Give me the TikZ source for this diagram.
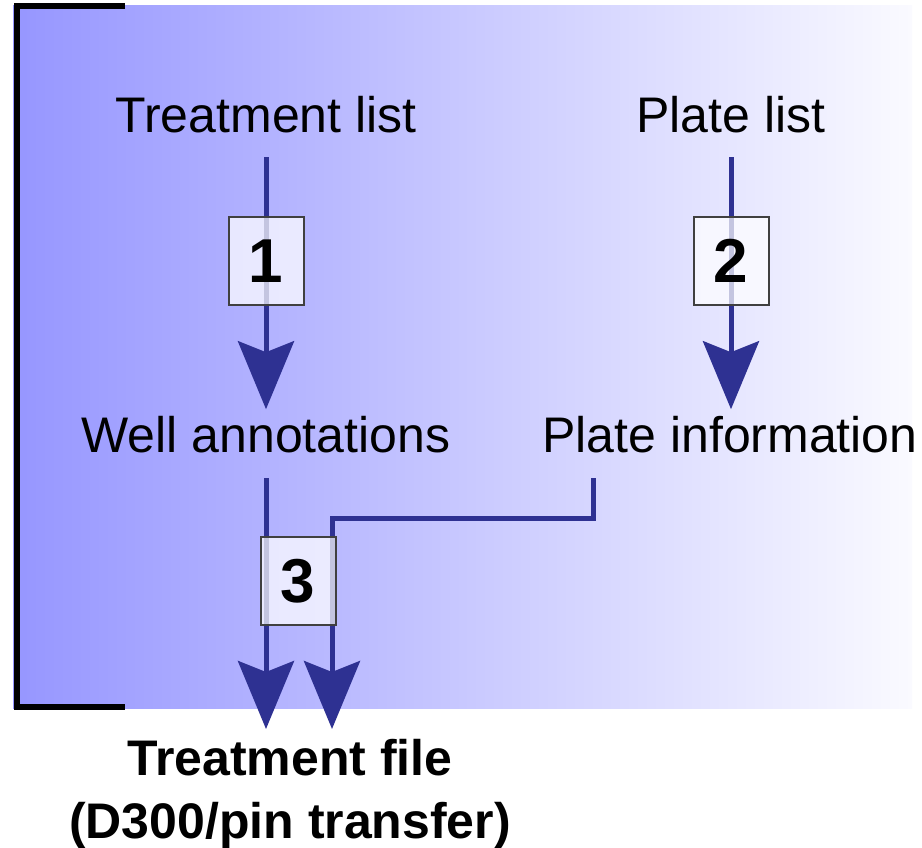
\documentclass[tikz,border=0pt]{standalone}
\usepackage{fontspec}
\setmainfont{Liberation Sans}
\usetikzlibrary{arrows.meta,calc}
\definecolor{flowblue}{HTML}{2E3192}
\definecolor{bandblue}{RGB}{150,150,255}
\definecolor{bandwhite}{RGB}{250,250,255}
\tikzset{
	itemtext/.style={inner sep=0pt, text height=18pt, text depth=0pt, font=\fontsize{25}{30}\selectfont},
	outtext/.style={inner sep=0pt, align=center, font=\fontsize{25}{31.5}\bfseries\selectfont},
	flow/.style={draw=flowblue, line width=2.5pt, -{Stealth[length=34pt, width=28pt, inset=5.5pt]}},
	stepno/.style={draw=black!75, line width=1pt, fill=white, fill opacity=0.72, text opacity=1,
		minimum width=37.5pt, minimum height=44pt, inner sep=0pt, font=\fontsize{31}{31}\bfseries\selectfont}
}

\begin{document}
\begin{tikzpicture}[x=0.5pt, y=-0.5pt]
		%%%%% START %%%%%
		\useasboundingbox (0, 0) rectangle (922, 847);
		
		\shade[left color=bandblue, right color=bandwhite] (13, 5) rectangle (912, 708);
		\draw[line width=3pt] (125, 5.5) -- (16.5, 5.5) -- (16.5, 706.5) -- (125, 706.5);
		
		\node[itemtext, anchor=south] (tlist) at (266, 133) {Treatment list};
		\node[itemtext, anchor=south] (plist) at (731, 133) {Plate list};
		\node[itemtext, anchor=south] (wann) at (266, 453) {Well annotations};
		\node[itemtext, anchor=south] (pinfo) at (730, 453) {Plate information};
		\node[outtext, anchor=north] (tfile) at (290, 739) {Treatment file\\(D300/pin transfer)};
		
		\draw[flow, shorten <=12pt, shorten >=3.5pt] (tlist) -- (wann);
		\draw[flow, shorten <=12pt, shorten >=3.5pt] (plist) -- (plist |- pinfo.north);
		
		\coordinate (join) at (332, 518);
		\draw[flow, shorten <=12.5pt, shorten >=5pt] (wann.south) -- (wann.south |- tfile.north);
		\draw[flow, shorten <=12.5pt, shorten >=5pt] ($(pinfo.south west)+(51, 0)$) |- (join) -- (join |- tfile.north);
		
		\node[stepno] (s1) at (266, 261) {1};
		\node[stepno] (s2) at (731, 261) {2};
		\node[stepno] (s3) at (298, 581) {3};
		
		%%%%% END %%%%%
	\end{tikzpicture}
\end{document}
